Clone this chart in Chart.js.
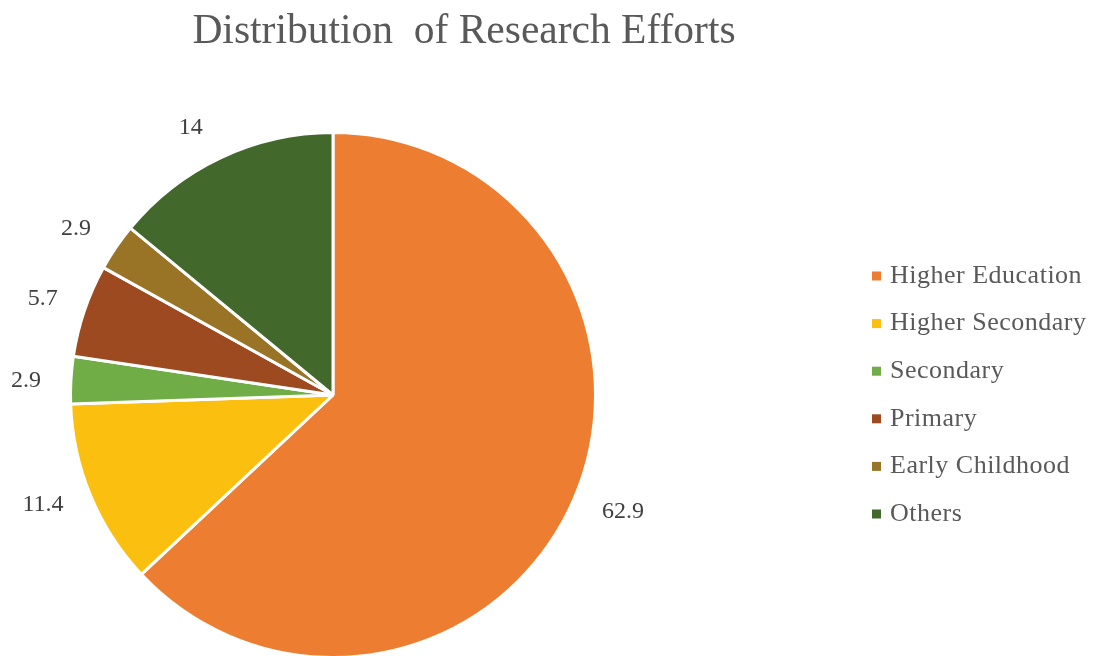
<!DOCTYPE html>
<html><head><meta charset="utf-8">
<script src="https://cdn.jsdelivr.net/npm/chart.js@4.4.1/dist/chart.umd.min.js"></script>
<style>
html,body{margin:0;padding:0;background:#fff;overflow:hidden;width:1097px;height:656px;}
#wrap{position:relative;width:1097px;height:700px;}
</style></head>
<body>
<div id="wrap"><canvas id="c" width="1097" height="700"></canvas></div>
<script>
const title = 'Distribution  of Research Efforts';
const categories = ['Higher Education','Higher Secondary','Secondary','Primary','Early Childhood','Others'];
const values = [62.9, 11.4, 2.9, 5.7, 2.9, 14];
const valueLabels = ['62.9','11.4','2.9','5.7','2.9','14'];
const colors = ['#ED7D31','#FBBF10','#70AD47','#9E4A20','#997326','#43682B'];

const labelNudge = [[8,-6],[-6,-8],[0,3],[1,3],[-3,7],[-11,11]];

const overlay = {
  id:'overlay',
  afterDraw(chart){
    const ctx = chart.ctx;
    const meta = chart.getDatasetMeta(0);
    ctx.save();
    // title
    ctx.fillStyle = '#595959';
    ctx.font = '41.5px "Liberation Serif", "Times New Roman", serif';
    ctx.textAlign = 'center'; ctx.textBaseline = 'alphabetic';
    ctx.fillText(title, 464, 43);
    // data labels
    ctx.textBaseline = 'middle';
    ctx.fillStyle = '#404040';
    ctx.font = '24px "Liberation Serif", "Times New Roman", serif';
    meta.data.forEach((arc,i)=>{
      const p = arc.getProps(['x','y','startAngle','endAngle','outerRadius'], true);
      const a = (p.startAngle+p.endAngle)/2;
      const d = p.outerRadius + 45;
      ctx.fillText(valueLabels[i], p.x + Math.cos(a)*d + labelNudge[i][0], p.y + Math.sin(a)*d + labelNudge[i][1]);
    });
    // legend
    ctx.font = '26px "Liberation Serif", "Times New Roman", serif';
    ctx.letterSpacing = '0.5px';
    ctx.textAlign = 'left';
    categories.forEach((c,i)=>{
      const y = 276 + i*47.6;
      ctx.fillStyle = colors[i];
      ctx.fillRect(872, y-4.5, 9, 9);
      ctx.fillStyle = '#595959';
      ctx.fillText(c, 890, y);
    });
    ctx.restore();
  }
};

new Chart(document.getElementById('c'), {
  type:'pie',
  data:{labels:categories, datasets:[{data:values, backgroundColor:colors, borderColor:'#ffffff', borderWidth:3}]},
  options:{
    responsive:false, animation:false,
    layout:{padding:{left:69, right:1097-597, top:131, bottom:700-659}},
    plugins:{legend:{display:false}, title:{display:false}, tooltip:{enabled:false}}
  },
  plugins:[overlay]
});
</script>
</body></html>
